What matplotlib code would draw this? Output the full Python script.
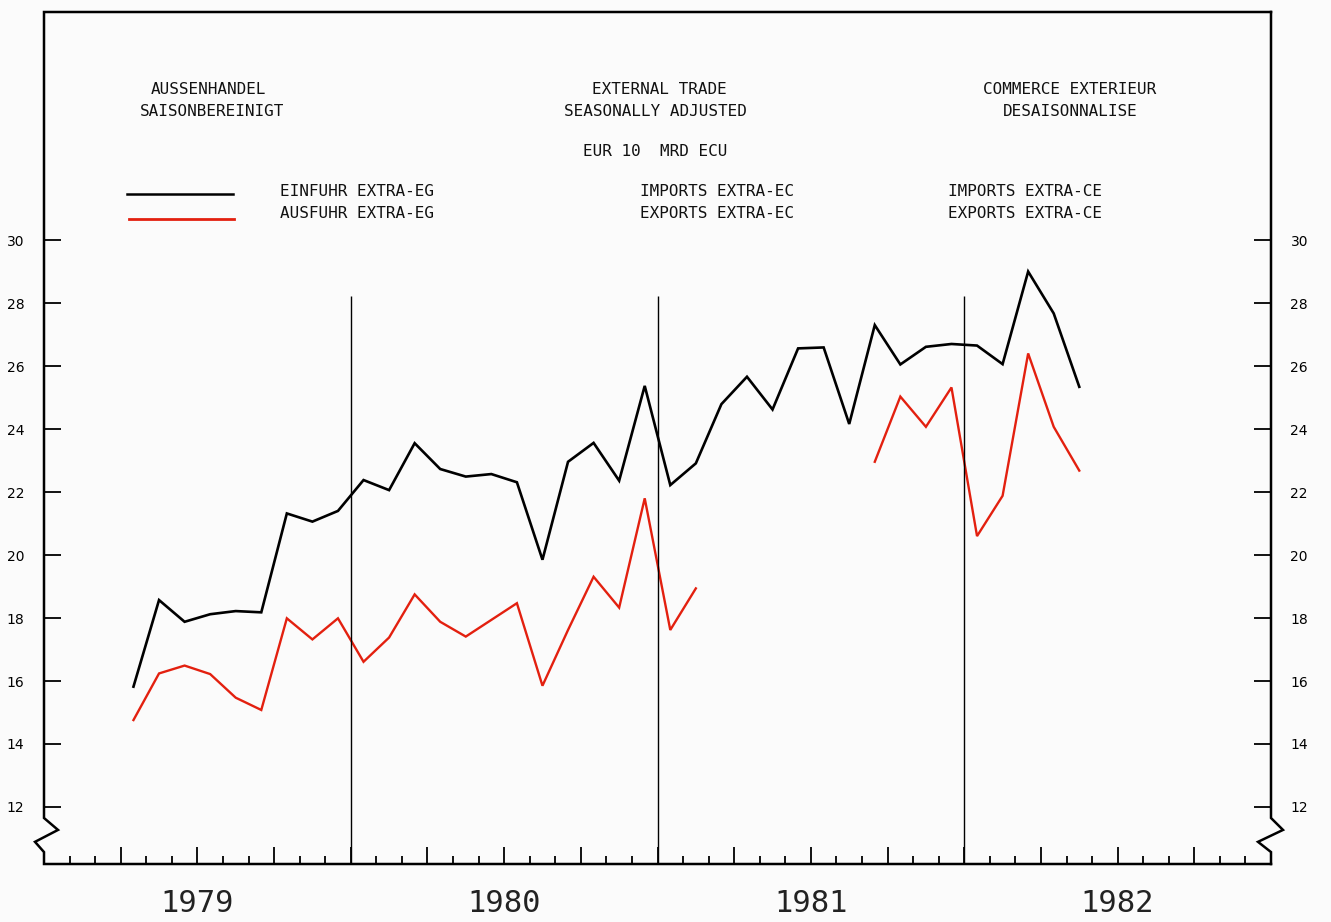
import matplotlib.pyplot as plt
import matplotlib.transforms as mtransforms
import numpy as np

# months counted from Jan 1979 (0 = Jan 1979), first value is Apr 1979
START_MONTH = 3
IMPORTS = [15.82, 18.57, 17.88, 18.12, 18.22, 18.18, 21.32, 21.06, 21.40,
           22.38, 22.06, 23.55, 22.73, 22.49, 22.57, 22.31, 19.85, 22.96,
           23.56, 22.36, 25.37, 22.22, 22.91, 24.79, 25.66, 24.62, 26.56,
           26.59, 24.16, 27.30, 26.05, 26.61, 26.70, 26.65, 26.06, 29.00,
           27.67, 25.34]
EXPORTS = [14.76, 16.24, 16.49, 16.22, 15.47, 15.08, 17.99, 17.32, 17.99,
           16.61, 17.38, 18.75, 17.88, 17.41, 17.94, 18.47, 15.85, 17.62,
           19.31, 18.33, 21.80, 17.62, 18.94, np.nan, np.nan, np.nan, np.nan,
           np.nan, np.nan, 22.96, 25.03, 24.07, 25.32, 20.60, 21.88, 26.40,
           24.07, 22.68]
YEARS = ["1979", "1980", "1981", "1982"]
Y_TICKS = [12, 14, 16, 18, 20, 22, 24, 26, 28, 30]

W, H = 1331, 922
fig = plt.figure(figsize=(W / 100, H / 100), dpi=100, facecolor="#fbfbfb")
ax = fig.add_axes([44 / W, 58 / H, 1227 / W, 852 / H])
ax.set_facecolor("#fbfbfb")

n_months = 12 * len(YEARS)
ax.set_xlim(0, n_months)
ax.set_ylim(10.19, 37.24)

x = START_MONTH + np.arange(len(IMPORTS)) + 0.5
ax.plot(x, IMPORTS, color="black", lw=1.9, solid_joinstyle="miter")
ax.plot(x, EXPORTS, color="#e3200f", lw=1.7, solid_joinstyle="miter")

# year separators
ax.vlines([12, 24, 36], 10.19, 28.22, color="black", lw=1.0)

# frame with axis breaks
for s in ax.spines.values():
    s.set_visible(False)
kw = dict(transform=ax.transAxes, color="black", lw=1.8, clip_on=False,
          solid_joinstyle="miter")
dx = 1 / 1227
ax.plot([1, 0, 0, 14 * dx, -9 * dx, 0, 0, 1],
        [1, 1, 0.054, 0.040, 0.026, 0.014, 0, 0], **kw)
ax.plot([1, 1, 1 + 12 * dx, 1 - 13 * dx, 1, 1],
        [1, 0.054, 0.040, 0.026, 0.014, 0], **kw)

# y ticks on both sides
ax.set_yticks(Y_TICKS)
ax.set_yticklabels([str(v) for v in Y_TICKS])
ax.tick_params(axis="y", direction="in", length=12, width=1.3, pad=14,
               left=True, right=True, labelleft=True, labelright=True,
               labelsize=10)

# month ticks on bottom
ax.set_xticks(np.arange(3, n_months, 3))
ax.set_xticks(np.arange(1, n_months), minor=True)
ax.tick_params(axis="x", which="major", direction="in", length=12, width=1.3,
               labelbottom=False)
ax.tick_params(axis="x", which="minor", direction="in", length=6, width=1.3)

trans = mtransforms.blended_transform_factory(ax.transData, ax.transAxes)
for i, yr in enumerate(YEARS):
    ax.text(12 * i + 6, -0.046, yr, transform=trans, ha="center", va="center",
            fontsize=22, family="DejaVu Sans Mono", color="#222222")

# header texts
mono = dict(family="DejaVu Sans Mono", fontsize=11.5, color="#111111",
            va="center")


def ftext(px, py, s, ha="center"):
    fig.text(px / W, 1 - py / H, s, ha=ha, **mono)


ftext(208, 90, "AUSSENHANDEL")
ftext(212, 111, "SAISONBEREINIGT")
ftext(659, 90, "EXTERNAL TRADE")
ftext(655, 111, "SEASONALLY ADJUSTED")
ftext(655, 151, "EUR 10  MRD ECU")
ftext(1070, 90, "COMMERCE EXTERIEUR")
ftext(1070, 111, "DESAISONNALISE")
ftext(280, 192, "EINFUHR EXTRA-EG", ha="left")
ftext(280, 213, "AUSFUHR EXTRA-EG", ha="left")
ftext(640, 192, "IMPORTS EXTRA-EC", ha="left")
ftext(640, 213, "EXPORTS EXTRA-EC", ha="left")
ftext(948, 192, "IMPORTS EXTRA-CE", ha="left")
ftext(948, 213, "EXPORTS EXTRA-CE", ha="left")

# legend keys
fig.add_artist(plt.Line2D([127 / W, 233 / W], [1 - 194 / H, 1 - 194 / H],
                          color="black", lw=1.8))
fig.add_artist(plt.Line2D([129 / W, 234 / W], [1 - 219 / H, 1 - 219 / H],
                          color="#e3200f", lw=2.0))

fig.savefig("out.png", dpi=100, facecolor=fig.get_facecolor())
